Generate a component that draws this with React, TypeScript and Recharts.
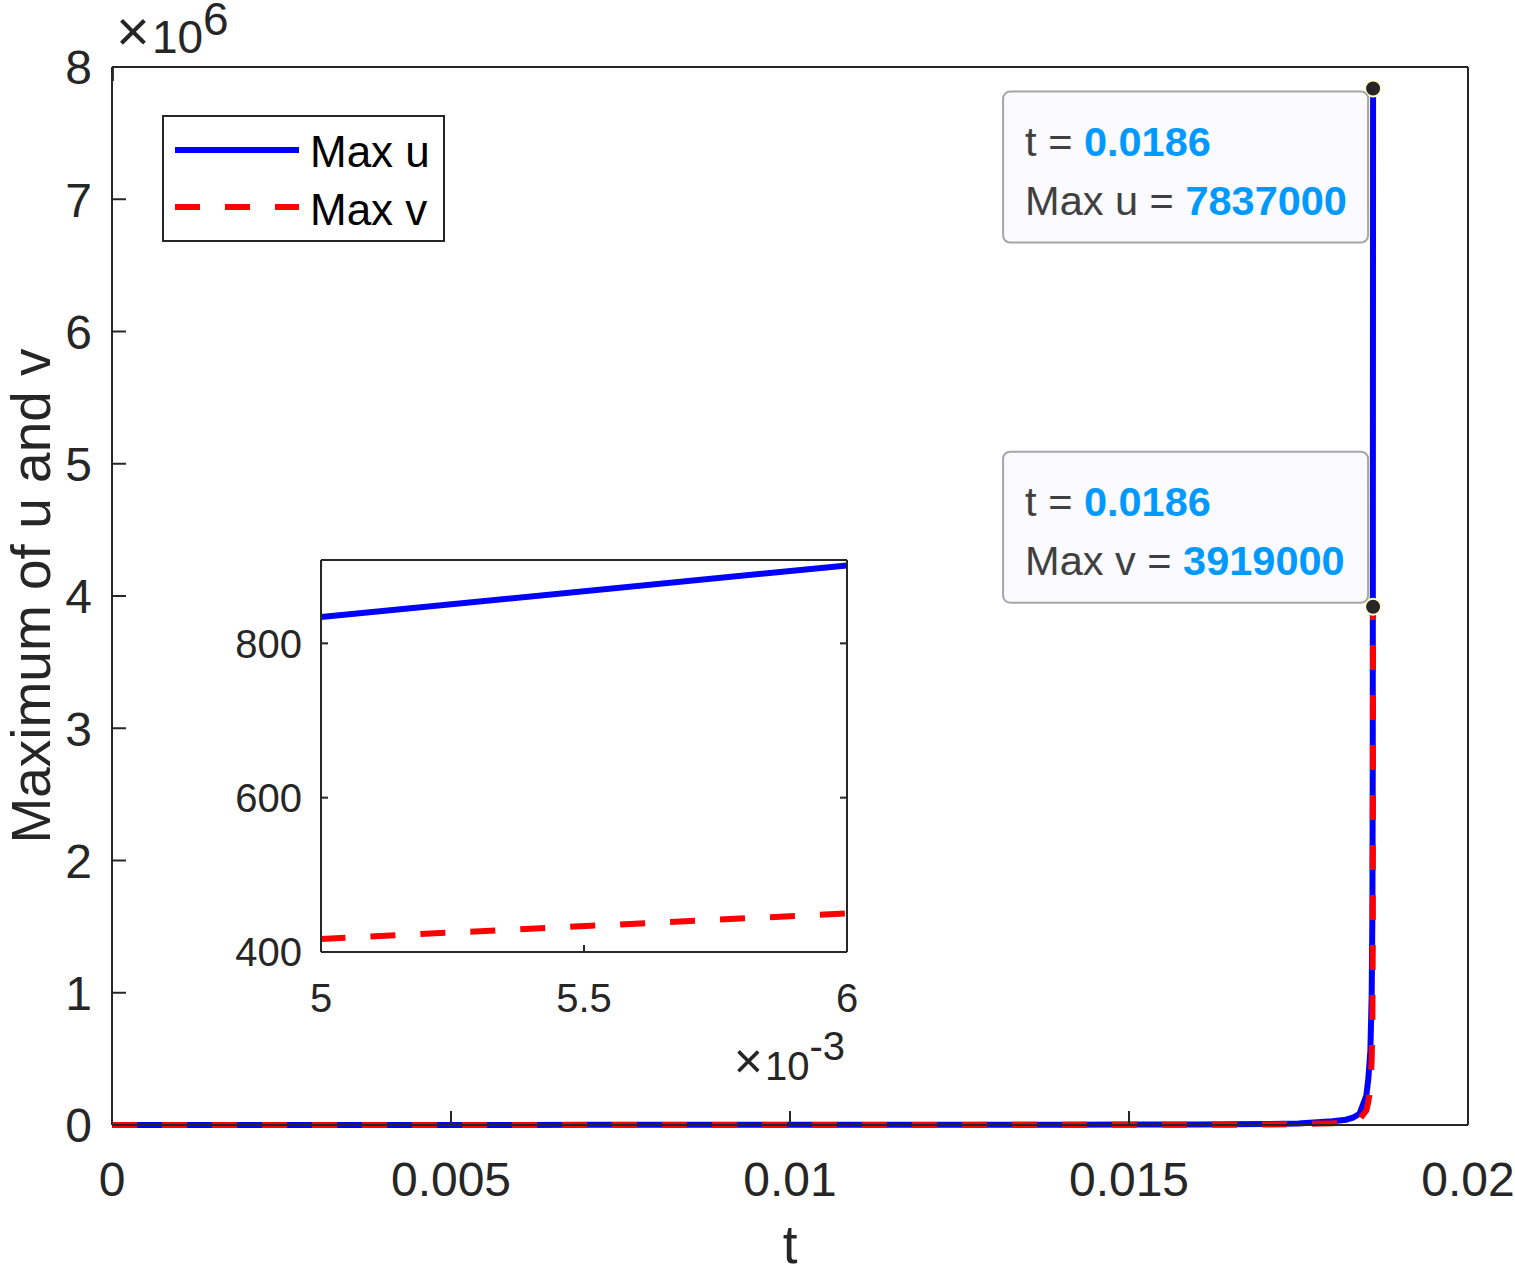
import React from "react";
import { LineChart, Line, XAxis, YAxis, ReferenceDot, Legend } from "recharts";

// time samples and the two maxima (inset gives the small values)
const tValues = [
  0, 0.001, 0.002, 0.003, 0.004, 0.005, 0.006, 0.007, 0.008, 0.009, 0.01, 0.011,
  0.012, 0.013, 0.014, 0.015, 0.016, 0.0165, 0.017, 0.0175, 0.018, 0.0182, 0.0183,
  0.0184, 0.0185, 0.01853, 0.01856, 0.01858, 0.01859, 0.018595, 0.0186,
];
const maxU = [
  607, 640, 681, 724, 774, 834, 901, 975, 1066, 1175, 1314, 1490,
  1712, 2020, 2456, 3140, 4350, 5300, 7100, 11000, 28000, 40000, 55000,
  85000, 220000, 350000, 560000, 1000000, 1600000, 2700000, 7837000,
];
const maxV = [
  304, 320, 340, 362, 387, 417, 450, 487, 533, 588, 657, 745,
  856, 1010, 1228, 1570, 2175, 2650, 3550, 5500, 14000, 20000, 27500,
  42500, 110000, 175000, 280000, 500000, 800000, 1350000, 3919000,
];

const mainXTicks = [0, 0.005, 0.01, 0.015, 0.02];
const mainYTicks = [0, 1e6, 2e6, 3e6, 4e6, 5e6, 6e6, 7e6, 8e6];
const insetXTicks = [0.005, 0.0055, 0.006];
const insetYTicks = [400, 600, 800];

const tipT = 0.0186;
const tipU = 7837000;
const tipV = 3919000;

const AXIS = "#262626";
const FONT = '"Liberation Sans", Arial, Helvetica, sans-serif';

const data = tValues.map((t, i) => ({ t, u: maxU[i], v: maxV[i] }));

const xTick = (size: number, fmt: (v: number) => string) => (props: any) => (
  <text x={props.x} y={props.y} textAnchor="middle" fill={AXIS} fontSize={size}>
    {fmt(props.payload.value)}
  </text>
);

const yTick = (size: number, fmt: (v: number) => string) => (props: any) => (
  <text x={props.x} y={props.y + size * 0.36} textAnchor="end" fill={AXIS} fontSize={size}>
    {fmt(props.payload.value)}
  </text>
);

// box sides: tick marks only, no labels
const noLabel = () => <g />;

const LegendBox = ({ payload }: any) => (
  <svg width={283} height={127} style={{ display: "block" }}>
    <rect x={1} y={1} width={281} height={125} fill="#fff" stroke={AXIS} strokeWidth={2} />
    {(payload || []).map((p: any, i: number) => (
      <g key={p.value}>
        <line
          x1={13}
          x2={137}
          y1={35 + i * 57}
          y2={35 + i * 57}
          stroke={p.color}
          strokeWidth={6}
          strokeDasharray={p.payload?.strokeDasharray ?? (i === 1 ? "25 25" : undefined)}
        />
        <text x={148} y={52 + i * 58} fontSize={44} fill="#000" fontFamily={FONT}>
          {p.value}
        </text>
      </g>
    ))}
  </svg>
);

const tipLabel = (name: string, value: number, below: boolean) => (props: any) => {
  const vb = props.viewBox || {};
  const cx = vb.x + vb.width / 2;
  const cy = vb.y + vb.height / 2;
  const w = 365;
  const h = 151;
  const left = cx - 5 - w;
  const top = below ? cy + 3 : cy - 4 - h;
  return (
    <g>
      <rect x={left} y={top} width={w} height={h} rx={7} fill="#fafaff" stroke="#a6a6a6" strokeWidth={2} />
      <text x={left + 22} y={top + 64} fontSize={41.5} fill="#404040">
        t = <tspan fill="#0099ff" fontWeight="bold">{tipT}</tspan>
      </text>
      <text x={left + 22} y={top + 123} fontSize={41.5} fill="#404040">
        {name} = <tspan fill="#0099ff" fontWeight="bold">{value}</tspan>
      </text>
    </g>
  );
};

export default function App() {
  return (
    <div
      style={{
        position: "absolute",
        left: 0,
        top: 0,
        width: 1515,
        height: 1271,
        background: "#fff",
        fontFamily: FONT,
      }}
    >
      <LineChart width={1515} height={1271} data={data} margin={{ top: 66, right: 46, bottom: 0, left: 0 }}>
        <XAxis
          dataKey="t"
          type="number"
          domain={[0, 0.02]}
          ticks={mainXTicks}
          height={146}
          tickSize={-14}
          tickMargin={85}
          stroke={AXIS}
          strokeWidth={2}
          tick={xTick(48, (v) => String(v))}
          label={{
            content: (p: any) => {
              const vb = p.viewBox || { x: 112, y: 1125, width: 1356 };
              return (
                <text x={vb.x + vb.width / 2} y={vb.y + 138} textAnchor="middle" fontSize={53} fill={AXIS}>
                  t
                </text>
              );
            },
          }}
        />
        <XAxis
          xAxisId="top"
          orientation="top"
          type="number"
          domain={[0, 0.02]}
          ticks={mainXTicks}
          height={1}
          tickSize={-14}
          tick={noLabel}
          stroke={AXIS}
          strokeWidth={2}
          label={{
            content: (p: any) => {
              const vb = p.viewBox || { x: 112, y: 66, height: 1 };
              const base = vb.y + vb.height;
              return (
                <text x={vb.x + 4} y={base - 14} fontSize={46} fill={AXIS}>
                  <tspan fontSize={58} dy={-2}>×</tspan>
                  <tspan dy={2} dx={2}>10</tspan>
                  <tspan dy={-18}>6</tspan>
                </text>
              );
            },
          }}
        />
        <YAxis
          type="number"
          domain={[0, 8e6]}
          ticks={mainYTicks}
          width={112}
          tickSize={-14}
          tickMargin={34}
          stroke={AXIS}
          strokeWidth={2}
          tick={yTick(48, (v) => String(v / 1e6))}
          label={{
            content: (p: any) => {
              const vb = p.viewBox || { y: 67, height: 1058 };
              const cy = vb.y + vb.height / 2;
              return (
                <text
                  x={50}
                  y={cy}
                  transform={`rotate(-90, 50, ${cy})`}
                  textAnchor="middle"
                  fontSize={55}
                  fill={AXIS}
                >
                  Maximum of u and v
                </text>
              );
            },
          }}
        />
        <YAxis
          yAxisId="right"
          orientation="right"
          type="number"
          domain={[0, 8e6]}
          ticks={mainYTicks}
          width={1}
          tickSize={-14}
          tick={noLabel}
          stroke={AXIS}
          strokeWidth={2}
        />
        <Legend
          layout="horizontal"
          align="center"
          verticalAlign="middle"
          content={<LegendBox />}
          wrapperStyle={{ left: 162, top: 115, width: 283, height: 127 }}
        />
        <Line
          dataKey="u"
          name="Max u"
          type="linear"
          stroke="#0000ff"
          strokeWidth={6}
          dot={false}
          activeDot={false}
          isAnimationActive={false}
        />
        <Line
          dataKey="v"
          name="Max v"
          type="linear"
          stroke="#ff0000"
          strokeWidth={6}
          strokeDasharray="25 25"
          dot={false}
          activeDot={false}
          isAnimationActive={false}
        />
        <ReferenceDot
          x={tipT}
          y={tipU}
          r={8}
          fill="#262626"
          stroke="#ffffd8"
          strokeWidth={2}
          label={{ content: tipLabel("Max u", tipU, true) }}
        />
        <ReferenceDot
          x={tipT}
          y={tipV}
          r={8}
          fill="#262626"
          stroke="#ffffd8"
          strokeWidth={2}
          label={{ content: tipLabel("Max v", tipV, false) }}
        />
      </LineChart>

      {/* zoomed inset around t = 5e-3 .. 6e-3 */}
      <div style={{ position: "absolute", left: 200, top: 530 }}>
        <LineChart width={680} height={570} data={data} margin={{ top: 29, right: 32, bottom: 0, left: 0 }}>
          <XAxis
            dataKey="t"
            type="number"
            domain={[0.005, 0.006]}
            allowDataOverflow
            ticks={insetXTicks}
            height={148}
            tickSize={-7}
            tickMargin={67}
            stroke={AXIS}
            strokeWidth={2}
            tick={xTick(40, (v) => String(Math.round(v * 10000) / 10))}
            label={{
              content: (p: any) => {
                const vb = p.viewBox || { x: 321, y: 952, width: 526 };
                return (
                  <text x={vb.x + vb.width - 2} y={vb.y + 128} textAnchor="end" fontSize={40} fill={AXIS}>
                    <tspan fontSize={50} dy={-2}>×</tspan>
                    <tspan dy={2} dx={2}>10</tspan>
                    <tspan dy={-20}>-3</tspan>
                  </text>
                );
              },
            }}
          />
          <XAxis
            xAxisId="top"
            orientation="top"
            type="number"
            domain={[0.005, 0.006]}
            allowDataOverflow
            ticks={insetXTicks}
            height={1}
            tickSize={-7}
            tick={noLabel}
            stroke={AXIS}
            strokeWidth={2}
          />
          <YAxis
            type="number"
            domain={[400, 908]}
            allowDataOverflow
            ticks={insetYTicks}
            width={121}
            tickSize={-7}
            tickMargin={26}
            stroke={AXIS}
            strokeWidth={2}
            tick={yTick(40, (v) => String(v))}
          />
          <YAxis
            yAxisId="right"
            orientation="right"
            type="number"
            domain={[400, 908]}
            allowDataOverflow
            ticks={insetYTicks}
            width={1}
            tickSize={-7}
            tick={noLabel}
            stroke={AXIS}
            strokeWidth={2}
          />
          <Line
            dataKey="u"
            type="linear"
            stroke="#0000ff"
            strokeWidth={6}
            dot={false}
            activeDot={false}
            isAnimationActive={false}
          />
          <Line
            dataKey="v"
            type="linear"
            stroke="#ff0000"
            strokeWidth={6}
            strokeDasharray="25 25"
            strokeDashoffset={19}
            dot={false}
            activeDot={false}
            isAnimationActive={false}
          />
        </LineChart>
      </div>
    </div>
  );
}
